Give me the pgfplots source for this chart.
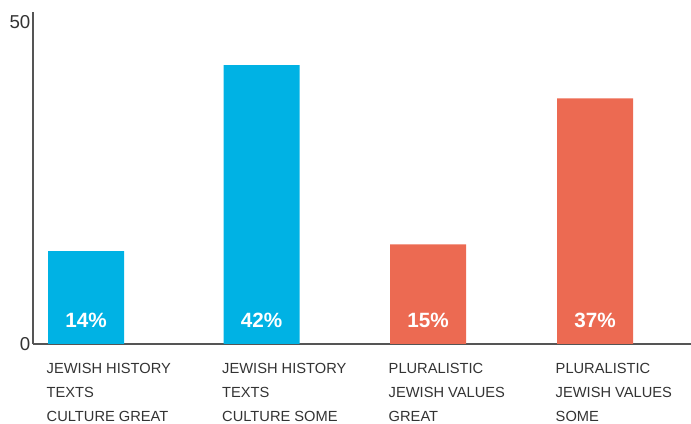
\documentclass[border=0pt]{standalone}
\usepackage{pgfplots}
\pgfplotsset{compat=1.18}
\usetikzlibrary{calc}
\usepackage{fontspec}
\setmainfont{Liberation Sans}
\definecolor{cblue}{RGB}{0,178,228}
\definecolor{cred}{RGB}{236,106,82}
\definecolor{axgray}{RGB}{85,85,85}
\definecolor{txt}{RGB}{51,51,51}
\begin{document}
\begin{tikzpicture}
\begin{axis}[
  scale only axis,
  width=493.5pt, height=249pt,
  xmin=33, xmax=691,
  ymin=0, ymax=50,
  axis x line*=bottom, axis y line*=left,
  axis line style={axgray, line width=1.5pt, -},
  xtick={86,261.5,428,595},
  xticklabels={{JEWISH HISTORY\\TEXTS\\CULTURE GREAT},{JEWISH HISTORY\\TEXTS\\CULTURE SOME},{PLURALISTIC\\JEWISH VALUES\\GREAT},{PLURALISTIC\\JEWISH VALUES\\SOME}},
  xticklabel style={anchor=north west, xshift=-33pt, yshift=-11pt, align=left, font=\fontsize{11}{18}\selectfont, text=txt},
  ytick={0},
  extra y ticks={50},
  extra y tick style={yticklabel style={yshift=-7.5pt}},
  yticklabel style={font=\fontsize{14}{16}\selectfont, text=txt, xshift=1.5pt},
  major tick length=0pt,
  tick style={draw=none},
  ybar, bar width=76,
  /pgf/number format/assume math mode=true,
  clip=false,
]
\addplot[fill=cblue, draw=none, bar shift=0pt] coordinates {(86,14) (261.5,42)};
\addplot[fill=cred, draw=none, bar shift=0pt] coordinates {(428,15) (595,37)};
\addplot[only marks, mark=none, point meta=explicit symbolic,
  nodes near coords, nodes near coords align={center},
  every node near coord/.append style={text=white, font=\fontsize{15.5}{18}\selectfont\bfseries, anchor=center}]
  coordinates {(86,3.6) [14\%] (261.5,3.6) [42\%] (428,3.6) [15\%] (595,3.6) [37\%]};
\end{axis}
\pgfresetboundingbox
\path[use as bounding box] ($(current axis.south west)+(-24.75pt,-60pt)$) rectangle ($(current axis.north east)+(0,9pt)$);
\end{tikzpicture}
\end{document}
